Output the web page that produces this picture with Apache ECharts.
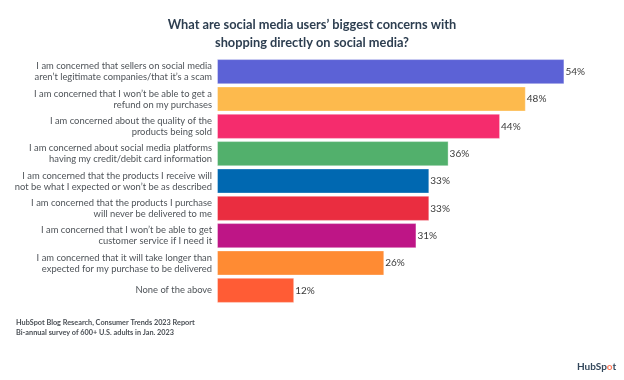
<!DOCTYPE html>
<html>
<head>
<meta charset="utf-8">
<script src="https://cdn.jsdelivr.net/npm/echarts@6/dist/echarts.min.js"></script>
<style>
html,body{margin:0;padding:0;background:#fff;}
#chart{width:624px;height:380px;}
</style>
</head>
<body>
<div id="chart"></div>
<script>
var titleText = "What are social media users\u2019 biggest concerns with\nshopping directly on social media?";
var categories = [
  "I am concerned that sellers on social media\naren\u2019t legitimate companies/that it\u2019s a scam",
  "I am concerned that I won\u2019t be able to get a\nrefund on my purchases",
  "I am concerned about the quality of the\nproducts being sold",
  "I am concerned about social media platforms\nhaving my credit/debit card information",
  "I am concerned that the products I receive will\nnot be what I expected or won\u2019t be as described",
  "I am concerned that the products I purchase\nwill never be delivered to me",
  "I am concerned that I won\u2019t be able to get\ncustomer service if I need it",
  "I am concerned that it will take longer than\nexpected for my purchase to be delivered",
  "None of the above"
];
var values = [54, 48, 44, 36, 33, 33, 31, 26, 12];
var colors = ["#5C62D6", "#FDBA4D", "#F52C6D", "#52B06C", "#0068B1", "#EA2D40", "#BE1586", "#FF8B33", "#FF5C35"];
var sourceLines = ["HubSpot Blog Research, Consumer Trends 2023 Report", "Bi-annual survey of 600+ U.S. adults in Jan. 2023"];

var chart = echarts.init(document.getElementById('chart'), null, {renderer: 'canvas'});
var FONT = 'Lato, "Noto Sans", sans-serif';
chart.setOption({
  backgroundColor: '#ffffff',
  animation: false,
  title: {
    text: titleText,
    left: 'center',
    top: 11,
    textStyle: {fontFamily: FONT, fontSize: 12.8, fontWeight: 'bold', color: '#2D3E50', lineHeight: 18}
  },
  grid: {left: 217, top: 58, width: 386, height: 246, containLabel: false, outerBoundsMode: 'none'},
  xAxis: {
    type: 'value', min: 0, max: 60,
    show: false
  },
  yAxis: {
    type: 'category',
    data: categories,
    inverse: true,
    axisLine: {show: false},
    axisTick: {show: false},
    axisLabel: {
      margin: 5,
      fontFamily: FONT, fontSize: 9.4, color: '#4F5459', lineHeight: 11, align: 'right'
    }
  },
  series: [{
    type: 'bar',
    data: values.map(function (v, i) {
      return {value: v, itemStyle: {color: colors[i]}};
    }),
    barCategoryGap: '8%',
    itemStyle: {borderColor: 'rgba(255,255,255,0.35)', borderWidth: 1},
    label: {
      show: true, position: 'right', distance: 1,
      formatter: '{c}%',
      fontFamily: FONT, fontSize: 10, color: '#3A3A3A'
    }
  }],
  graphic: [
    {
      type: 'text', left: 16, top: 318,
      style: {text: sourceLines.join('\n'), fontFamily: FONT, fontSize: 7.3, fontWeight: 'bold', fill: '#4A4F55', lineHeight: 10}
    },
    {
      type: 'text', left: 577, top: 362,
      style: {
        text: '{a|HubSp}{b|o}{a|t}',
        rich: {
          a: {fontFamily: FONT, fontSize: 10, fontWeight: 'bold', fill: '#33475B', color: '#33475B'},
          b: {fontFamily: FONT, fontSize: 10, fontWeight: 'bold', fill: '#FF7A59', color: '#FF7A59'}
        }
      }
    }
  ]
});
</script>
</body>
</html>
